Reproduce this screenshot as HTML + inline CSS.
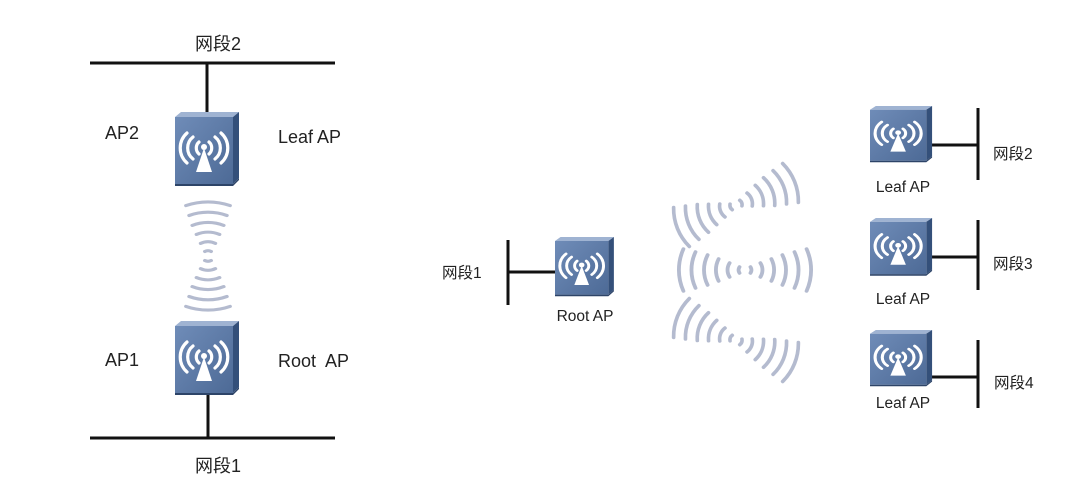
<!DOCTYPE html>
<html><head><meta charset="utf-8"><style>
html,body{margin:0;padding:0;background:#fff;}
svg{display:block;}
text{font-family:"Liberation Sans","Noto Sans CJK SC",sans-serif;fill:#222;}
</style></head><body>
<svg width="1080" height="492" viewBox="0 0 1080 492" xmlns="http://www.w3.org/2000/svg">
<defs>
<linearGradient id="fg" x1="0" y1="0" x2="1" y2="1">
<stop offset="0" stop-color="#6f8cb8"/><stop offset="1" stop-color="#4d6a96"/></linearGradient>
<g id="ap">
<polygon points="0,5 6,0 64,0 58,5" fill="#9fb3d2"/>
<polygon points="58,5 64,0 64,66 58,72" fill="#34507a"/>
<polygon points="0,5 58,5 58,72 0,72" fill="url(#fg)"/>
<polygon points="0,72 58,72 64,66 64,68 58,74 0,74" fill="#2d4468"/>
<g fill="none" stroke="#fff" stroke-width="3.2" stroke-linecap="round">
<path d="M24,30 a8,8 0 0 0 0,12"/><path d="M34,30 a8,8 0 0 1 0,12"/>
<path d="M18,25 a14,14 0 0 0 0,22"/><path d="M40,25 a14,14 0 0 1 0,22"/>
<path d="M12,21 a20,20 0 0 0 0,30"/><path d="M46,21 a20,20 0 0 1 0,30"/>
</g>
<circle cx="29" cy="35" r="3" fill="#fff"/>
<polygon points="29,36 21,60 37,60" fill="#fff"/>
</g>
<g id="wv" fill="none" stroke="#b4bbcf" stroke-width="3.5" stroke-linecap="round">
<path d="M-5,-3 a6,6 0 0 0 0,6"/><path d="M5,-3 a6,6 0 0 1 0,6"/>
<path d="M-14,-7 a14,14 0 0 0 0,14"/><path d="M14,-7 a14,14 0 0 1 0,14"/>
<path d="M-24,-11 a26,26 0 0 0 0,22"/><path d="M24,-11 a26,26 0 0 1 0,22"/>
<path d="M-34,-15 a36,36 0 0 0 0,30"/><path d="M34,-15 a36,36 0 0 1 0,30"/>
<path d="M-45,-18 a46,46 0 0 0 0,36"/><path d="M45,-18 a46,46 0 0 1 0,36"/>
<path d="M-56,-21 a56,56 0 0 0 0,42"/><path d="M56,-21 a56,56 0 0 1 0,42"/>
</g>
</defs>
<g stroke="#111" stroke-width="3" fill="none">
<line x1="90" y1="63" x2="335" y2="63"/><line x1="207" y1="63" x2="207" y2="113"/>
<line x1="90" y1="438" x2="335" y2="438"/><line x1="208" y1="390" x2="208" y2="438"/>
<line x1="508" y1="240" x2="508" y2="305"/><line x1="508" y1="272" x2="557" y2="272"/>
<line x1="978" y1="108" x2="978" y2="180"/><line x1="932" y1="145" x2="978" y2="145"/>
<line x1="978" y1="220" x2="978" y2="290"/><line x1="932" y1="257" x2="978" y2="257"/>
<line x1="978" y1="340" x2="978" y2="408"/><line x1="932" y1="377" x2="978" y2="377"/>
</g>
<use href="#ap" transform="translate(175,112) scale(1,1)"/>
<use href="#ap" transform="translate(175,321)"/>
<use href="#ap" transform="translate(555,237) scale(0.92,0.8)"/>
<use href="#ap" transform="translate(870,106) scale(0.97,0.76)"/>
<use href="#ap" transform="translate(870,218) scale(0.97,0.78)"/>
<use href="#ap" transform="translate(870,330) scale(0.97,0.76)"/>
<use href="#wv" transform="translate(208,256) rotate(90) scale(0.9,1.05)"/>
<use href="#wv" transform="translate(745,270) scale(1.1,1.0)"/>
<use href="#wv" transform="translate(736,205) rotate(-22) scale(1.05,1.0)"/>
<use href="#wv" transform="translate(736,340) rotate(22) scale(1.05,1.0)"/>
<g font-size="18">
<text x="218" y="50" text-anchor="middle">网段2</text>
<text x="105" y="139">AP2</text>
<text x="278" y="143">Leaf AP</text>
<text x="105" y="366">AP1</text>
<text x="278" y="367" xml:space="preserve">Root  AP</text>
<text x="218" y="472" text-anchor="middle">网段1</text>
</g>
<g font-size="15.5">
<text x="442" y="278">网段1</text>
<text x="585" y="321" text-anchor="middle">Root AP</text>
<text x="903" y="192" text-anchor="middle">Leaf AP</text>
<text x="903" y="304" text-anchor="middle">Leaf AP</text>
<text x="903" y="408" text-anchor="middle">Leaf AP</text>
<text x="993" y="159">网段2</text>
<text x="993" y="269">网段3</text>
<text x="994" y="388">网段4</text>
</g>
</svg>
</body></html>
